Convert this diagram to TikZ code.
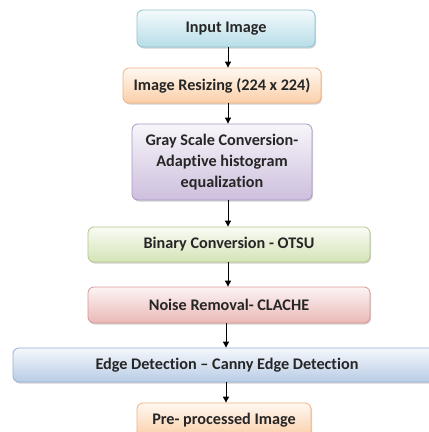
\documentclass[tikz,border=0pt]{standalone}
\usepackage{fontspec}
\setmainfont[Ligatures={NoCommon}]{Carlito}
\usetikzlibrary{arrows.meta,shadows}
\definecolor{cyanB}{HTML}{B7DDE8}\definecolor{cyanD}{HTML}{8CC3D3}
\definecolor{orB}{HTML}{FBCFA8}\definecolor{orD}{HTML}{F2B082}
\definecolor{puB}{HTML}{CDBFDD}\definecolor{puD}{HTML}{A897C4}
\definecolor{grB}{HTML}{D4E4B6}\definecolor{grD}{HTML}{B2C98A}
\definecolor{reB}{HTML}{E9B8B6}\definecolor{reD}{HTML}{D99694}
\definecolor{blB}{HTML}{B8CCE6}\definecolor{blD}{HTML}{93AFD5}
\definecolor{txt}{HTML}{262626}
\tikzset{
  box/.style={rounded corners=6pt, draw=#1D, line width=0.8pt, top color=#1B!15!white, bottom color=#1B,
    font=\bfseries\fontsize{16.2}{21}\selectfont, text=txt, align=center, inner sep=0pt,
    drop shadow={shadow xshift=1pt, shadow yshift=-1.5pt, opacity=0.35}},
  arr/.style={-{Triangle[width=6pt,length=6pt]}, line width=0.9pt, black}
}
\begin{document}
\begin{tikzpicture}[x=1pt,y=-1pt]
\useasboundingbox (0,0) rectangle (429,432);
\node[box=cyan, minimum width=178pt, minimum height=37pt] (a) at (226,28.5) {Input Image};
\node[box=or, minimum width=198pt, minimum height=35pt] (b) at (222,85.5) {Image Resizing (224 x 224)};
\node[box=pu, minimum width=180pt, minimum height=76pt] (c) at (222,162) {Gray Scale Conversion-\\Adaptive histogram\\equalization};
\node[box=gr, minimum width=282pt, minimum height=35pt] (d) at (229,244.5) {Binary Conversion - OTSU};
\node[box=re, minimum width=282pt, minimum height=36pt] (e) at (229,305) {Noise Removal- CLACHE};
\node[box=bl, minimum width=428pt, minimum height=34pt] (f) at (227,365) {Edge Detection – Canny Edge Detection};
\node[box=or, minimum width=174pt, minimum height=34pt] (g) at (224,420) {Pre- processed Image};
\coordinate (ax) at (228,0);
\coordinate (bx) at (226,0);
\draw[arr] (a.south -| ax) -- (b.north -| ax);
\draw[arr] (b.south -| ax) -- (c.north -| ax);
\draw[arr] (c.south -| ax) -- (d.north -| ax);
\draw[arr] (d.south -| ax) -- (e.north -| ax);
\draw[arr] (e.south -| bx) -- (f.north -| bx);
\draw[arr] (f.south -| bx) -- (g.north -| bx);
\end{tikzpicture}
\end{document}
